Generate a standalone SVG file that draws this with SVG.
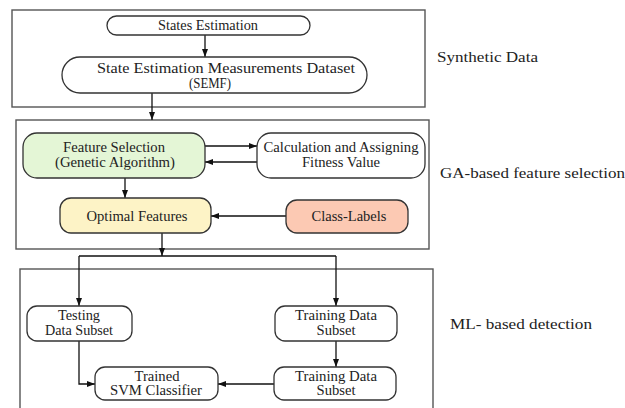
<svg xmlns="http://www.w3.org/2000/svg" width="625" height="408" viewBox="0 0 625 408">
<defs>
<marker id="arr" markerWidth="8" markerHeight="6" refX="8" refY="3" orient="auto" markerUnits="userSpaceOnUse">
<path d="M0,0 L8,3 L0,6 Z" fill="#111"/>
</marker>
<style>
.frame{fill:none;stroke:#555;stroke-width:1.4}
.node{stroke:#333;stroke-width:1.3;fill:#fff}
.t{font-family:"Liberation Serif","Times New Roman",serif;font-size:14px;fill:#222;text-anchor:middle}
.side{font-family:"Liberation Serif","Times New Roman",serif;font-size:15px;fill:#222}
.c{fill:none;stroke:#111;stroke-width:1.3}
.ca{fill:none;stroke:#111;stroke-width:1.3;marker-end:url(#arr)}
</style>
</defs>
<rect width="625" height="408" fill="#fff"/>
<g id="frames">
<rect class="frame" x="12" y="10" width="413" height="97"/>
<rect class="frame" x="16" y="120" width="413" height="129"/>
<rect class="frame" x="20" y="269" width="413" height="150"/>
</g>
<g id="section-labels">
<text class="side" x="437" y="62" textLength="101" lengthAdjust="spacingAndGlyphs">Synthetic Data</text>
<text class="side" x="440" y="178" textLength="185" lengthAdjust="spacingAndGlyphs">GA-based feature selection</text>
<text class="side" x="450" y="329" textLength="142" lengthAdjust="spacingAndGlyphs">ML- based detection</text>
</g>
<g id="connectors">
<line class="ca" x1="205" y1="35" x2="205" y2="57"/>
<line class="ca" x1="152" y1="93" x2="152" y2="120"/>
<line class="ca" x1="205" y1="146" x2="257" y2="146"/>
<line class="ca" x1="257" y1="162" x2="205" y2="162"/>
<line class="ca" x1="125" y1="178" x2="125" y2="198"/>
<line class="ca" x1="286" y1="216" x2="211" y2="216"/>
<line class="ca" x1="162" y1="233" x2="162" y2="256"/>
<line class="c" x1="79" y1="256" x2="336" y2="256"/>
<line class="ca" x1="79" y1="256" x2="79" y2="306"/>
<line class="ca" x1="336" y1="256" x2="336" y2="306"/>
<line class="ca" x1="336" y1="341" x2="336" y2="367"/>
<line class="ca" x1="274" y1="384" x2="218" y2="384"/>
<polyline class="ca" points="79,341 79,384 95,384"/>
</g>
<g id="states-estimation">
<rect class="node" x="107" y="16" width="203" height="19" rx="9.5"/>
<text class="t" x="208" y="30" textLength="100" lengthAdjust="spacingAndGlyphs">States Estimation</text>
</g>
<g id="semf">
<rect class="node" x="62" y="57" width="305" height="36" rx="18"/>
<text class="t" x="226" y="73" textLength="258" lengthAdjust="spacingAndGlyphs">State Estimation Measurements Dataset</text>
<text class="t" x="210" y="88" textLength="42" lengthAdjust="spacingAndGlyphs">(SEMF)</text>
</g>
<g id="feature-selection">
<rect class="node" x="23" y="133" width="182" height="45" rx="14" style="fill:#e4f6d6"/>
<text class="t" x="114" y="152" textLength="102" lengthAdjust="spacingAndGlyphs">Feature Selection</text>
<text class="t" x="115" y="167" textLength="120" lengthAdjust="spacingAndGlyphs">(Genetic Algorithm)</text>
</g>
<g id="fitness">
<rect class="node" x="257" y="133" width="168" height="45" rx="14"/>
<text class="t" x="341" y="152" textLength="155" lengthAdjust="spacingAndGlyphs">Calculation and Assigning</text>
<text class="t" x="341" y="167" textLength="78" lengthAdjust="spacingAndGlyphs">Fitness Value</text>
</g>
<g id="optimal-features">
<rect class="node" x="60" y="198" width="151" height="35" rx="11" style="fill:#fdf3c6"/>
<text class="t" x="137" y="221" textLength="101" lengthAdjust="spacingAndGlyphs">Optimal Features</text>
</g>
<g id="class-labels">
<rect class="node" x="286" y="200" width="122" height="33" rx="11" style="fill:#fcc9b3"/>
<text class="t" x="349" y="221" textLength="75" lengthAdjust="spacingAndGlyphs">Class-Labels</text>
</g>
<g id="testing-subset">
<rect class="node" x="27" y="306" width="105" height="35" rx="10"/>
<text class="t" x="79" y="320" textLength="42" lengthAdjust="spacingAndGlyphs">Testing</text>
<text class="t" x="79" y="335" textLength="68" lengthAdjust="spacingAndGlyphs">Data Subset</text>
</g>
<g id="training-subset-1">
<rect class="node" x="275" y="306" width="122" height="35" rx="10"/>
<text class="t" x="336" y="320" textLength="82" lengthAdjust="spacingAndGlyphs">Training Data</text>
<text class="t" x="336" y="335" textLength="39" lengthAdjust="spacingAndGlyphs">Subset</text>
</g>
<g id="training-subset-2">
<rect class="node" x="274" y="367" width="122" height="33" rx="10"/>
<text class="t" x="336" y="381" textLength="82" lengthAdjust="spacingAndGlyphs">Training Data</text>
<text class="t" x="336" y="395" textLength="39" lengthAdjust="spacingAndGlyphs">Subset</text>
</g>
<g id="trained-svm">
<rect class="node" x="95" y="367" width="123" height="33" rx="10"/>
<text class="t" x="157" y="381" textLength="45" lengthAdjust="spacingAndGlyphs">Trained</text>
<text class="t" x="156" y="395" textLength="92" lengthAdjust="spacingAndGlyphs">SVM Classifier</text>
</g>
</svg>
